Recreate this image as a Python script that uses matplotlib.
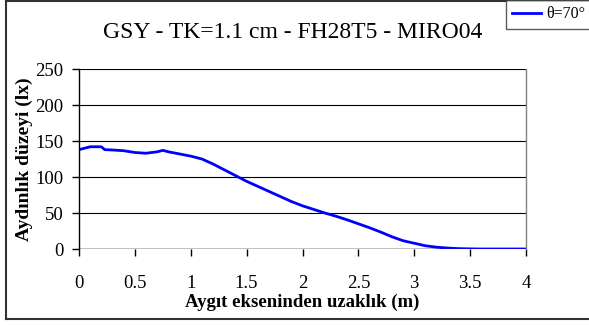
import matplotlib
matplotlib.use("Agg")
import matplotlib.pyplot as plt
from matplotlib.lines import Line2D

# Illuminance profile across the distance from the luminaire axis
distance_m = [0, 0.1, 0.2, 0.23, 0.3, 0.4, 0.5, 0.6, 0.7, 0.75, 0.8, 0.9, 1.0,
              1.1, 1.2, 1.3, 1.4, 1.5, 1.6, 1.7, 1.8, 1.9, 2.0, 2.1, 2.2, 2.3,
              2.4, 2.5, 2.6, 2.7, 2.8, 2.9, 3.0, 3.1, 3.2, 3.3, 3.4, 3.5, 3.6,
              3.7, 3.8, 3.9, 4.0]
illuminance_lx = [138, 142, 142, 138, 137.5, 136.5, 134, 133, 135, 137, 135,
                  132, 129, 125, 118, 110, 102, 94, 87, 80, 73, 66, 60, 55, 50,
                  45.5, 40.5, 35, 29.5, 23.5, 17, 11.5, 8, 4.5, 2.5, 1.3, 0.5,
                  0.2, 0, 0, 0, 0, 0]
series_label = "θ=70°"
title_text = "GSY - TK=1.1 cm - FH28T5 - MIRO04"
x_label = "Aygıt ekseninden uzaklık (m)"
y_label = "Aydınlık düzeyi (lx)"
x_ticks = [0, 0.5, 1, 1.5, 2, 2.5, 3, 3.5, 4]
y_ticks = [0, 50, 100, 150, 200, 250]

serif = ["Liberation Serif", "DejaVu Serif"]
plt.rcParams["font.family"] = serif

W, H = 589, 325
fig = plt.figure(figsize=(W / 100, H / 100), dpi=100)

# Outer chart border
fig.add_artist(Line2D([5.5 / W, 5.5 / W], [1 - 319 / H, 1 - 1 / H],
                      transform=fig.transFigure, color="#333333", lw=1.5))
fig.add_artist(Line2D([5.5 / W, 1.0], [1 - 319 / H, 1 - 319 / H],
                      transform=fig.transFigure, color="#333333", lw=1.5))
fig.add_artist(Line2D([5.5 / W, 1.0], [1 - 1 / H, 1 - 1 / H],
                      transform=fig.transFigure, color="#333333", lw=1.5))

ax = fig.add_axes([79 / W, 1 - 249 / H, (526 - 79) / W, (249 - 69) / H])
ax.plot(distance_m, illuminance_lx, color="#0000FF", lw=2.0, solid_joinstyle="round")

ax.set_xlim(0, 4)
ax.set_ylim(0, 250)
ax.set_xticks(x_ticks)
ax.set_xticklabels([f"{t:g}" for t in x_ticks])
ax.set_yticks(y_ticks)
ax.grid(axis="y", color="black", lw=0.8)
ax.set_axisbelow(True)

for side in ("top", "bottom"):
    ax.spines[side].set_visible(False)
ax.spines["right"].set_color("#808080")
ax.spines["right"].set_linewidth(1.0)
ax.spines["left"].set_color("black")
ax.spines["left"].set_linewidth(1.0)
ax.axhline(0, color="black", lw=1.0, zorder=1)

ax.tick_params(axis="both", direction="out", length=5, width=1.0,
               labelsize=13.5, colors="black")
ax.tick_params(axis="y", pad=6)
ax.tick_params(axis="x", pad=14)

ax.set_xlabel(x_label, fontsize=13.5, fontweight="bold", labelpad=1)
ax.set_ylabel(y_label, fontsize=14, fontweight="bold", labelpad=2)

fig.text(293 / W, 1 - 33 / H, title_text, ha="center", va="center", fontsize=17)

# Legend box in the upper right corner
leg = fig.legend([Line2D([0], [0], color="#0000FF", lw=2.0)], [series_label],
                 loc="upper left", bbox_to_anchor=(506 / W, 1 - 0 / H),
                 frameon=True, fancybox=False, fontsize=11.5, handlelength=1.8,
                 handletextpad=0.35, borderpad=0.4, borderaxespad=0)
leg.get_frame().set_edgecolor("#333333")
leg.get_frame().set_linewidth(1.0)

fig.savefig("out.png", dpi=100)
